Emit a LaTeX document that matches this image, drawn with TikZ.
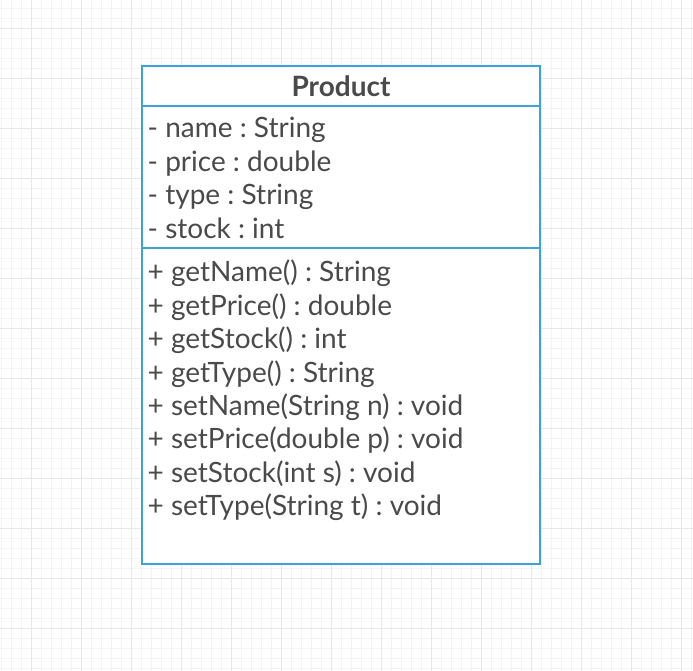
\documentclass[tikz,border=0pt]{standalone}
\usepackage{fontspec}
\setmainfont{Lato}
\definecolor{umlblue}{HTML}{3AA3DB}
\definecolor{txtgray}{HTML}{4A4A4A}
\definecolor{gridminor}{HTML}{F3F3F3}
\definecolor{gridmajor}{HTML}{E8E8E8}
\begin{document}
\frenchspacing
\begin{tikzpicture}[x=1pt,y=-1pt,
    member/.style={anchor=base west,inner sep=0pt,text=txtgray,font=\fontsize{28}{32}\selectfont},
    classname/.style={anchor=base,inner sep=0pt,text=txtgray,font=\fontsize{28}{32}\selectfont\bfseries}]
\useasboundingbox (0,0) rectangle (693,671);
\fill[white](0,0) rectangle (693,671);

% background grid
\foreach \x in {0,...,69}
    \draw[gridminor, line width=1pt]({1.7+10*\x},0)--({1.7+10*\x},671);
\foreach \y in {0,...,66}
    \draw[gridminor, line width=1pt](0,{8.3+10*\y})--(693,{8.3+10*\y});
\foreach \x in {0,...,13}
    \draw[gridmajor, line width=1pt]({31.7+50*\x},0)--({31.7+50*\x},671);
\foreach \y in {0,...,12}
    \draw[gridmajor, line width=1pt](0,{28.3+50*\y})--(693,{28.3+50*\y});

% class box
\draw[umlblue, line width=2pt, fill=white](142,66) rectangle (540,564);
\draw[umlblue, line width=2pt](142,106)--(540,106);
\draw[umlblue, line width=2pt](142,248)--(540,248);

\node[classname] (title) at (341,96.5) {Product};

\foreach \i/\t in {1/- name : String, 2/- price : double, 3/- type : String, 4/- stock : int}
{
    \node[member] (a\i) at (147.5,{137.6+33.5*(\i-1)}) {\t};
}

\foreach \i/\t in {1/+ getName() : String, 2/+ getPrice() : double, 3/+ getStock() : int,
    4/+ getType() : String, 5/+ setName(String n) : void, 6/+ setPrice(double p) : void,
    7/+ setStock(int s) : void, 8/+ setType(String t) : void}
{
    \node[member] (m\i) at (147.5,{281.8+33.4*(\i-1)}) {\t};
}
\end{tikzpicture}
\end{document}
